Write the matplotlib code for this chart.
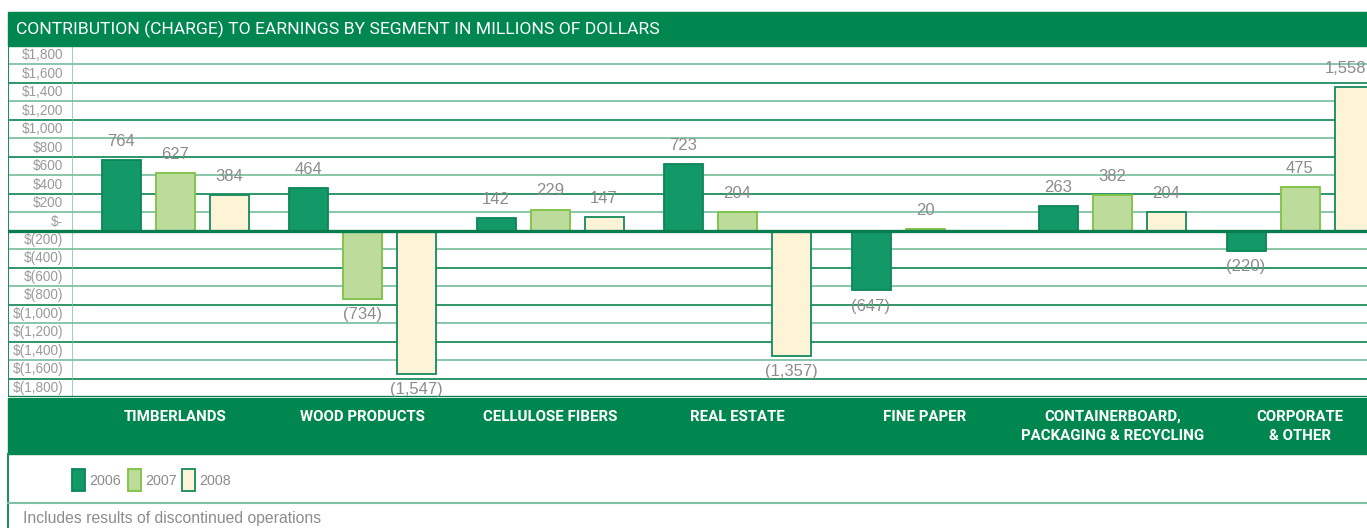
"""
Contribution (charge) to earnings by segment, 2006-2008, as a boxed table-style bar chart.
"""
import matplotlib
matplotlib.use("Agg")                      # headless rendering
import matplotlib.pyplot as plt
from matplotlib.patches import Rectangle
import numpy as np

# ── data ──────────────────────────────────────────────────────────────────────

TITLE = "CONTRIBUTION (CHARGE) TO EARNINGS BY SEGMENT IN MILLIONS OF DOLLARS"
FOOTNOTE = "Includes results of discontinued operations"

segments = ["TIMBERLANDS", "WOOD PRODUCTS", "CELLULOSE FIBERS", "REAL ESTATE",
            "FINE PAPER", "CONTAINERBOARD,\nPACKAGING & RECYCLING",
            "CORPORATE\n& OTHER"]
years = ["2006", "2007", "2008"]
v2006 = [764, 464, 142, 723, -647, 263, -220]
v2007 = [627, -734, 229, 204, 20, 382, 475]
v2008 = [384, -1547, 147, -1357, np.nan, 204, 1558]
tick_values = list(range(-1800, 1801, 200))

# ── style ─────────────────────────────────────────────────────────────────────

W, H = 1367, 528
GREEN = "#00874f"
GRID_DARK = "#1f8d5d"
GRID_LIGHT = "#7fc2a3"
GREY = "#8c8c8c"
FILLS = ["#139867", "#bddc9c", "#fdf3d7"]
EDGES = ["#0c8657", "#7dc242", "#168a5c"]
NARROW = ["Roboto", "DejaVu Sans"]
PLAIN = ["Liberation Sans", "DejaVu Sans"]


def fx(px):
    return px / W


def fy(py):
    return 1 - py / H


def money(v):
    if v == 0:
        return "$-"
    s = f"{abs(v):,}"
    return f"${s}" if v > 0 else f"$({s})"


def value_label(v):
    s = f"{abs(v):,}"
    return s if v >= 0 else f"({s})"


fig = plt.figure(figsize=(W / 100, H / 100), dpi=100)
fig.patch.set_facecolor("white")

# bands: title on top, segment names under the plot
fig.patches.append(Rectangle((fx(8), fy(46)), fx(W - 8), 34 / H,
                             transform=fig.transFigure, color=GREEN, zorder=0))
fig.patches.append(Rectangle((fx(8), fy(454)), fx(W - 8), 56 / H,
                             transform=fig.transFigure, color=GREEN, zorder=0))
fig.text(fx(16), fy(29), TITLE, color="white", fontsize=12.6,
         family=NARROW, va="center", ha="left")

y_top, y_bot = 46, 397
ylim = (-1800, 2000)
ax = fig.add_axes([fx(73), fy(y_bot), fx(W - 73), (y_bot - y_top) / H])
lab = fig.add_axes([fx(8), fy(y_bot), fx(65), (y_bot - y_top) / H])

for a in (ax, lab):
    a.set_ylim(*ylim)
    a.set_xticks([]); a.set_yticks([])
    for sp in a.spines.values():
        sp.set_visible(False)
    for i, t in enumerate(tick_values + [2000]):
        if t == 0:
            continue
        a.axhline(t, color=GRID_DARK if i % 2 else GRID_LIGHT, lw=1.3, zorder=1)
    a.axhline(0, color="#0a7d50", lw=2.4, zorder=4)
    a.axhline(-1800, color="#0a7d50", lw=2.4, zorder=4)

lab.set_xlim(0, 1)
lab.axvline(1, color=GRID_LIGHT, lw=1.8)
lab.axvline(0, color=GRID_DARK, lw=1.5)
for t in tick_values:
    lab.text(0.85, t + 100, money(t), ha="right", va="center",
             fontsize=9.8, color="#9a9a9a", family=PLAIN)

# bars
x = np.arange(len(segments))
step, width = 0.288, 0.208
series = [v2006, v2007, v2008]
for k, vals in enumerate(series):
    xs = x + (k - 1) * step
    vals = np.array(vals, dtype=float)
    ok = ~np.isnan(vals)
    ax.bar(xs[ok], vals[ok], width, color=FILLS[k], edgecolor=EDGES[k],
           linewidth=1.3, zorder=3)
    for xi, v in zip(xs[ok], vals[ok]):
        v = int(v)
        dx = -6 if xi > 6 else 0          # keep the rightmost label inside
        ax.annotate(value_label(v), (xi, v), xytext=(dx, 8 if v >= 0 else -6),
                    textcoords="offset points", ha="center",
                    va="bottom" if v >= 0 else "top", fontsize=12,
                    color=GREY, family=PLAIN, zorder=5)

ax.set_xlim((73 - 175) / 187.5, (W - 175) / 187.5)

# segment names in the lower band
for xi, name in zip(x, segments):
    px = 175 + xi * 187.5
    fig.text(fx(px), fy(410), name, color="white", fontsize=10.8,
             fontweight="bold", family=NARROW, ha="center", va="top",
             linespacing=1.5)

# legend row and footnote
fig.add_artist(plt.Line2D([fx(8), fx(8)], [fy(454), fy(H)], color=GRID_DARK,
                          lw=1.5, transform=fig.transFigure))
fig.add_artist(plt.Line2D([fx(8), 1], [fy(503), fy(503)], color=GRID_LIGHT,
                          lw=1.5, transform=fig.transFigure))
for k, (yr, left) in enumerate(zip(years, [72, 128, 182])):
    fig.patches.append(Rectangle((fx(left), fy(491)), fx(13), 22 / H,
                                 transform=fig.transFigure, facecolor=FILLS[k],
                                 edgecolor=EDGES[k], lw=1.3))
    fig.text(fx(left + 17), fy(481), yr, fontsize=10.3, color=GREY,
             family=PLAIN, va="center", ha="left")
fig.text(fx(23), fy(519), FOOTNOTE, fontsize=11.3, color=GREY, family=PLAIN,
         va="center", ha="left")

fig.savefig("out.png", dpi=100)
